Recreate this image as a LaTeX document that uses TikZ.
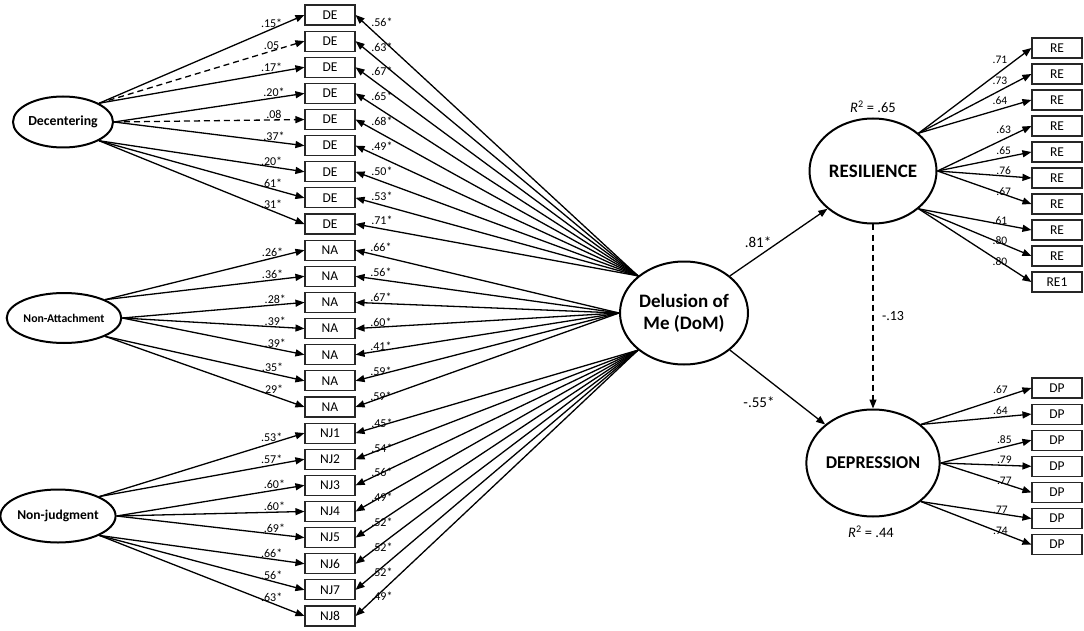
\documentclass[tikz,border=0pt]{standalone}
\usepackage{fontspec}
\setmainfont{Carlito}
\usetikzlibrary{arrows.meta,shapes.geometric}
\begin{document}
\begin{tikzpicture}[x=1pt,y=-1pt,
 obs/.style={draw=black!85, line width=1.1pt, minimum width=50pt, minimum height=20pt, inner sep=0pt, font=\fontsize{13.5}{14}\selectfont},
 lat/.style={draw, ellipse, line width=2pt, inner sep=0pt, font=\bfseries},
 conn/.style={line width=1.3pt, -{Triangle[length=9pt,width=7pt]}},
 dconn/.style={conn, dash pattern=on 6pt off 4pt},
 lab/.style={font=\fontsize{12}{13}\selectfont, inner sep=1pt},
 rlab/.style={font=\fontsize{11.5}{12}\selectfont, inner sep=1pt},
 plab/.style={font=\fontsize{15}{16}\selectfont, inner sep=0pt},
]
\useasboundingbox (0,0) rectangle (1084,631);

% observed indicators, left column
\foreach \i/\t in {1/DE,2/DE,3/DE,4/DE,5/DE,6/DE,7/DE,8/DE,9/DE,
  10/NA,11/NA,12/NA,13/NA,14/NA,15/NA,16/NA,
  17/NJ1,18/NJ2,19/NJ3,20/NJ4,21/NJ5,22/NJ6,23/NJ7,24/NJ8}
  \node[obs] (b\i) at (330,{15+26.13*(\i-1)}) {\t};

% latent variables
\node[lat, minimum width=100pt, minimum height=51pt, font=\bfseries\fontsize{13.8}{14}\selectfont] (dec) at (63,122) {Decentering};
\node[lat, minimum width=102pt, minimum height=50pt, font=\bfseries\fontsize{11.8}{14}\selectfont] (nat) at (64,318) {Non-Attachment};
\node[lat, minimum width=103pt, minimum height=53pt, font=\bfseries\fontsize{13.5}{14}\selectfont] (nj) at (58,516) {Non-judgment};
\node[lat, minimum width=128pt, minimum height=103pt, align=center, font=\bfseries\fontsize{19}{22}\selectfont] (dom) at (684,313) {Delusion of\\Me (DoM)};
\node[lat, minimum width=127pt, minimum height=105pt, font=\bfseries\fontsize{19}{20}\selectfont] (res) at (873,171) {RESILIENCE};
\node[lat, minimum width=127pt, minimum height=107pt, font=\bfseries\fontsize{18}{20}\selectfont] (dep) at (873,463) {DEPRESSION};

% right indicators
\foreach \i/\t in {1/RE,2/RE,3/RE,4/RE,5/RE,6/RE,7/RE,8/RE,9/RE,10/RE1}
  \node[obs] (r\i) at (1057,{48+26*(\i-1)}) {\t};
\foreach \i in {1,...,7}
  \node[obs] (d\i) at (1057,{388+26.1*(\i-1)}) {DP};

% mindfulness factors -> items
\foreach \i/\s/\a/\l/\st in {
  1/dec/north east/.15*/conn, 2/dec/north east/.05/dconn, 3/dec/north east/.17*/conn,
  4/dec/east/.20*/conn, 5/dec/east/.08/dconn, 6/dec/east/.37*/conn,
  7/dec/south east/.20*/conn, 8/dec/south east/.61*/conn, 9/dec/south east/.31*/conn,
  10/nat/north east/.26*/conn, 11/nat/north east/.36*/conn,
  12/nat/east/.28*/conn, 13/nat/east/.39*/conn, 14/nat/east/.39*/conn,
  15/nat/south east/.35*/conn, 16/nat/south east/.29*/conn,
  17/nj/north east/.53*/conn, 18/nj/north east/.57*/conn,
  19/nj/east/.60*/conn, 20/nj/east/.60*/conn, 21/nj/east/.69*/conn,
  22/nj/south east/.66*/conn, 23/nj/south east/.56*/conn, 24/nj/south east/.63*/conn}
  \draw[\st] (\s.\a) -- node[lab, pos=0.84, anchor=south] {\l} (b\i.west);

% DoM -> items
\foreach \i/\a/\l in {
  1/north west/.56*, 2/north west/.63*, 3/north west/.67*, 4/north west/.65*,
  5/north west/.68*, 6/north west/.49*, 7/north west/.50*, 8/north west/.53*, 9/north west/.71*,
  10/west/.66*, 11/west/.56*, 12/west/.67*, 13/west/.60*, 14/west/.41*, 15/west/.59*, 16/west/.59*,
  17/south west/.45*, 18/south west/.54*, 19/south west/.56*, 20/south west/.49*,
  21/south west/.52*, 22/south west/.52*, 23/south west/.52*, 24/south west/.49*}
  \draw[conn] (dom.\a) -- node[lab, pos=0.95, anchor=south west] {\l} (b\i.east);

% Resilience -> items
\foreach \i/\a/\l in {1/north east/.71, 2/north east/.73, 3/north east/.64,
  4/east/.63, 5/east/.65, 6/east/.76, 7/east/.67,
  8/south east/.61, 9/south east/.80, 10/south east/.80}
  \draw[conn] (res.\a) -- node[rlab, pos=0.8, anchor=south east] {\l} (r\i.west);

% Depression -> items
\foreach \i/\a/\l in {1/north east/.67, 2/north east/.64,
  3/east/.85, 4/east/.79, 5/east/.77,
  6/south east/.77, 7/south east/.74}
  \draw[conn] (dep.\a) -- node[rlab, pos=0.8, anchor=south east] {\l} (d\i.west);

% structural paths
\draw[conn] (dom.north east) -- (res.south west);
\draw[conn] (dom.south east) -- (dep.north west);
\draw[dconn] (res.south) -- (dep.north);
\node[plab] (p1) at (758,242) {.81*};
\node[plab] (p2) at (759,402) {-.55*};
\node[plab, font=\fontsize{14}{15}\selectfont] (p3) at (893,316) {-.13};
\node[font=\fontsize{14.5}{15}\selectfont] (r2a) at (873,107) {\textit{R}\textsuperscript{2} = .65};
\node[font=\fontsize{14.5}{15}\selectfont] (r2b) at (871,532) {\textit{R}\textsuperscript{2} = .44};
\end{tikzpicture}
\end{document}
